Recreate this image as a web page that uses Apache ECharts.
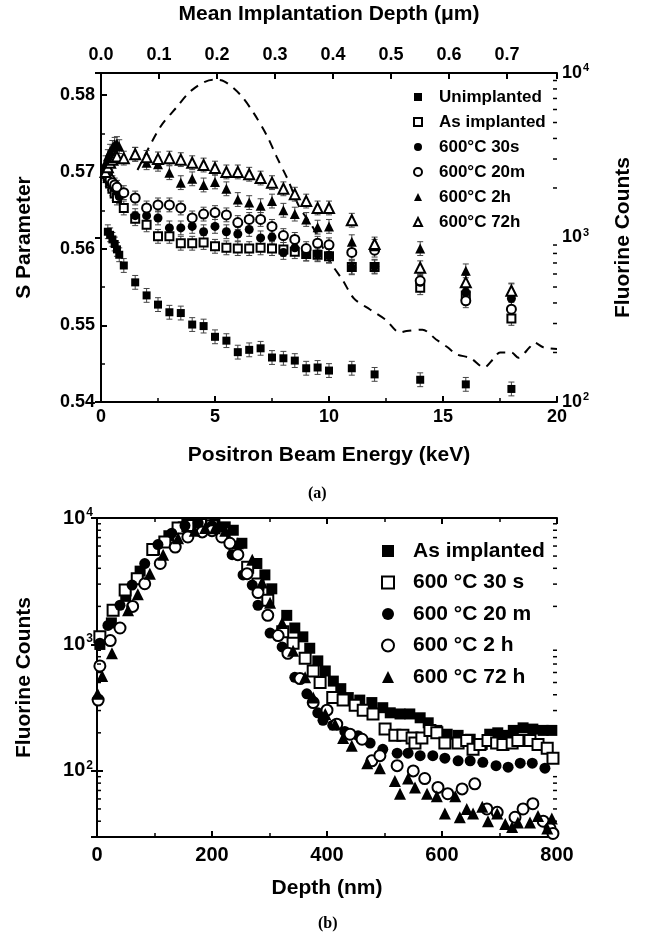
<!DOCTYPE html>
<html>
<head>
<meta charset="utf-8">
<script src="https://cdn.jsdelivr.net/npm/echarts@6/dist/echarts.min.js"></script>
<style>
html, body { margin: 0; padding: 0; background: #fff; }
#chart { width: 647px; height: 935px; }
</style>
</head>
<body>
<div id="chart"></div>
<script>
// (a) S parameter vs positron energy, [keV, S]
const unimplanted = [[0.3,0.5622],[0.4,0.5618],[0.5,0.5612],[0.6,0.5606],[0.7,0.5599],[0.8,0.5592],[1.0,0.5578],[1.5,0.5556],[2.0,0.5539],[2.5,0.5527],[3.0,0.5517],[3.5,0.5516],[4.0,0.5501],[4.5,0.5499],[5.0,0.5485],[5.5,0.5480],[6.0,0.5465],[6.5,0.5468],[7.0,0.5470],[7.5,0.5458],[8.0,0.5457],[8.5,0.5454],[9.0,0.5444],[9.5,0.5445],[10,0.5441],[11,0.5444],[12,0.5436],[14,0.5429],[16,0.5423],[18,0.5417]];
const asImplanted = [[0.2,0.5700],[0.3,0.5692],[0.4,0.5685],[0.5,0.5678],[0.6,0.5672],[0.7,0.5666],[1.0,0.5653],[1.5,0.5639],[2.0,0.5631],[2.5,0.5616],[3.0,0.5616],[3.5,0.5607],[4.0,0.5607],[4.5,0.5608],[5.0,0.5603],[5.5,0.5601],[6.0,0.5600],[6.5,0.5600],[7.0,0.5601],[7.5,0.5600],[8.0,0.5599],[8.5,0.5596],[9.0,0.5593],[9.5,0.5592],[10,0.5590],[11,0.5576],[12,0.5576],[14,0.5549],[16,0.5539],[18,0.5509]];
const anneal30s = [[0.2,0.5695],[0.3,0.5690],[0.4,0.5686],[0.5,0.5682],[0.6,0.5678],[0.7,0.5674],[0.8,0.5668],[1.5,0.5643],[2.0,0.5643],[2.5,0.5640],[3.0,0.5627],[3.5,0.5627],[4.0,0.5629],[4.5,0.5622],[5.0,0.5629],[5.5,0.5622],[6.0,0.5619],[6.5,0.5625],[7.0,0.5614],[7.5,0.5615],[8.0,0.5595],[8.5,0.5601],[9.0,0.5593],[9.5,0.5593],[10,0.5591],[11,0.5575],[12,0.5577],[14,0.5556],[16,0.5543],[18,0.5535]];
const anneal20m = [[0.2,0.5698],[0.3,0.5694],[0.4,0.5690],[0.5,0.5686],[0.6,0.5683],[0.7,0.5680],[1.0,0.5673],[1.5,0.5666],[2.0,0.5653],[2.5,0.5657],[3.0,0.5657],[3.5,0.5653],[4.0,0.5640],[4.5,0.5645],[5.0,0.5647],[5.5,0.5644],[6.0,0.5634],[6.5,0.5638],[7.0,0.5638],[7.5,0.5629],[8.0,0.5617],[8.5,0.5612],[9.0,0.5600],[9.5,0.5607],[10,0.5605],[11,0.5595],[12,0.5598],[14,0.5558],[16,0.5532],[18,0.5521]];
const anneal2h = [[0.2,0.5712],[0.3,0.5720],[0.4,0.5727],[0.5,0.5732],[0.6,0.5736],[0.7,0.5737],[0.8,0.5733],[1.5,0.5723],[2.0,0.5712],[2.5,0.5710],[3.0,0.5699],[3.5,0.5686],[4.0,0.5691],[4.5,0.5683],[5.0,0.5687],[5.5,0.5678],[6.0,0.5664],[6.5,0.5660],[7.0,0.5656],[7.5,0.5662],[8.0,0.5650],[8.5,0.5645],[9.0,0.5638],[9.5,0.5628],[10,0.5629],[11,0.5609],[12,0.5603],[14,0.5600],[16,0.5571],[18,0.5546]];
const anneal72h = [[0.2,0.5700],[0.3,0.5706],[0.4,0.5712],[0.5,0.5716],[0.6,0.5719],[0.7,0.5720],[1.0,0.5718],[1.5,0.5723],[2.0,0.5719],[2.5,0.5717],[3.0,0.5718],[3.5,0.5716],[4.0,0.5712],[4.5,0.5709],[5.0,0.5705],[5.5,0.5700],[6.0,0.5700],[6.5,0.5697],[7.0,0.5692],[7.5,0.5686],[8.0,0.5678],[8.5,0.5671],[9.0,0.5662],[9.5,0.5653],[10,0.5653],[11,0.5637],[12,0.5606],[14,0.5575],[16,0.5556],[18,0.5545]];
const sError = 0.0009;

// fluorine profile mapped onto beam energy (dashed curve, right axis)
const fluorineEnergy = [1.6,2.6,3.3,4.0,4.9,5.4,6.1,6.7,7.3,7.7,8.2,8.7,9.3,10.0,10.6,11.1,11.8,12.5,13.1,13.4,14.1,14.7,15.2,15.6,16.2,16.8,17.2,17.5,18.0,18.3,18.8,19.0,19.4,20.0];
const fluorineCounts = [2570,4700,6150,7900,9100,8900,7400,5700,4100,3100,2240,1530,1150,730,550,425,365,315,265,270,275,240,215,195,185,162,182,200,200,186,215,230,215,210];

// depth axis on top of (a), micrometres
const depthTicks = [0, 0.786];

// minor ticks of the log axes (2..9 x 10^n)
const logMinorA = [200,300,400,500,600,700,800,900,2000,3000,4000,5000,6000,7000,8000,9000];
const logMinorB = [40,50,60,70,80,90,200,300,400,500,600,700,800,900,2000,3000,4000,5000,6000,7000,8000,9000];

// (b) SIMS fluorine profiles, [nm, counts]
const simsAsImplanted = [[5,1000],[25,1480],[50,2400],[75,3800],[100,5620],[125,7240],[150,8510],[175,9120],[205,9120],[223,8510],[237,8000],[252,6310],[278,4365],[292,3548],[304,2754],[330,1698],[344,1349],[358,1148],[370,933],[384,741],[397,617],[411,513],[424,447],[437,380],[457,363],[478,347],[497,316],[510,288],[527,282],[544,282],[562,263],[576,240],[591,209],[609,195],[628,191],[649,178],[670,162],[683,195],[697,200],[713,191],[724,209],[741,219],[758,214],[776,209],[791,209]];
const sims30s = [[5,1148],[28,1862],[49,2692],[70,3311],[97,5623],[118,6457],[141,8318],[158,8710],[180,8900],[200,8700],[220,7600],[240,5750],[262,4074],[280,3000],[297,2239],[323,1259],[341,1023],[362,776],[376,617],[388,501],[410,380],[428,363],[449,331],[463,302],[480,282],[501,214],[518,191],[532,191],[548,182],[553,166],[565,182],[579,209],[591,200],[605,166],[628,166],[643,174],[654,148],[666,162],[680,174],[695,166],[706,162],[722,166],[732,174],[753,174],[767,162],[783,151],[793,126]];
const sims20m = [[5,1023],[19,1413],[40,2042],[61,2951],[83,4365],[106,6166],[130,7586],[153,8710],[176,9120],[200,8700],[218,7900],[235,5129],[254,3548],[270,2951],[280,2042],[301,1230],[322,955],[344,550],[365,407],[384,288],[393,251],[410,230],[431,205],[454,190],[475,166],[497,148],[522,138],[541,138],[562,132],[584,132],[605,126],[628,120],[649,120],[671,117],[694,110],[715,107],[736,115],[757,115],[779,105]];
const sims2h = [[2,363],[5,676],[23,1072],[40,1349],[62,2000],[83,3020],[110,4365],[136,5888],[158,7079],[183,7762],[200,7943],[217,7079],[231,6310],[245,5129],[261,3631],[280,2570],[297,1698],[315,1175],[332,851],[353,537],[376,347],[400,302],[417,234],[440,195],[461,178],[478,120],[492,132],[522,110],[550,100],[570,87],[593,74],[610,66],[635,72],[657,79],[678,50],[696,47],[727,43],[741,50],[758,55],[776,40],[788,35],[793,32]];
const sims72h = [[1,407],[9,562],[26,851],[54,1862],[71,2500],[92,3631],[115,5129],[141,6918],[170,7943],[188,8318],[205,8300],[223,7943],[245,6310],[270,4677],[287,3090],[301,2138],[322,1479],[341,891],[362,550],[376,380],[397,282],[414,234],[428,182],[443,158],[470,115],[492,105],[518,83],[527,66],[541,87],[553,74],[574,66],[591,63],[605,46],[623,63],[631,43],[643,50],[654,46],[670,52],[680,40],[696,46],[710,38],[722,36],[732,39],[753,39],[767,44],[783,35],[791,42]];

const FONT = 'Liberation Sans';

// 10^n labels for log axes
function powLabel(v) {
    const lg = Math.log10(v);
    const e = Math.round(lg);
    if (Math.abs(lg - e) > 1e-6) return '';
    return '{b|10}{s|' + e + '}';
}
function powRich(size) {
    return {
        b: { fontFamily: FONT, fontWeight: 'bold', fontSize: size, color: '#000' },
        s: { fontFamily: FONT, fontWeight: 'bold', fontSize: Math.round(size * 0.6), color: '#000', verticalAlign: 'bottom', padding: [0, 0, Math.round(size * 0.55), 1] }
    };
}
function stepLabel(step, digits) {
    return function (v) {
        const k = v / step;
        return Math.abs(k - Math.round(k)) < 1e-6 ? v.toFixed(digits) : '';
    };
}

// エラーバー描画
function errorBar(params, api) {
    const x = api.value(0);
    const lo = api.coord([x, api.value(1)]);
    const hi = api.coord([x, api.value(2)]);
    const w = 3;
    const style = { stroke: '#444', lineWidth: 1 };
    return {
        type: 'group',
        children: [
            { type: 'line', shape: { x1: lo[0], y1: lo[1], x2: hi[0], y2: hi[1] }, style: style },
            { type: 'line', shape: { x1: lo[0] - w, y1: lo[1], x2: lo[0] + w, y2: lo[1] }, style: style },
            { type: 'line', shape: { x1: hi[0] - w, y1: hi[1], x2: hi[0] + w, y2: hi[1] }, style: style }
        ]
    };
}

// 対数軸の副目盛り (value[2] = 内向きの方向)
function minorTick(params, api) {
    const p = api.coord([api.value(0), api.value(1)]);
    const dir = api.value(2);
    return {
        type: 'line',
        shape: { x1: p[0], y1: p[1], x2: p[0] + dir * 4, y2: p[1] },
        style: { stroke: '#000', lineWidth: 1.5 }
    };
}

const topSamples = [
    { name: 'Unimplanted', data: unimplanted, symbol: 'rect', size: 8 },
    { name: 'As implanted', data: asImplanted, symbol: 'emptyRect', size: 8 },
    { name: '600°C 30s', data: anneal30s, symbol: 'circle', size: 9 },
    { name: '600°C 20m', data: anneal20m, symbol: 'emptyCircle', size: 9 },
    { name: '600°C 2h', data: anneal2h, symbol: 'triangle', size: 10 },
    { name: '600°C 72h', data: anneal72h, symbol: 'emptyTriangle', size: 10 }
];
const bottomSamples = [
    { name: 'b:As implanted', data: simsAsImplanted, symbol: 'rect' },
    { name: 'b:600 °C 30 s', data: sims30s, symbol: 'emptyRect' },
    { name: 'b:600 °C 20 m', data: sims20m, symbol: 'circle' },
    { name: 'b:600 °C 2 h', data: sims2h, symbol: 'emptyCircle' },
    { name: 'b:600 °C 72 h', data: sims72h, symbol: 'triangle' }
];

const series = [];
series.push({
    type: 'line',
    xAxisIndex: 0,
    yAxisIndex: 1,
    data: fluorineEnergy.map((e, i) => [e, fluorineCounts[i]]),
    showSymbol: false,
    smooth: 0.3,
    lineStyle: { color: '#000', width: 2, type: [9, 7] },
    z: 1,
    silent: true
});
series.push({
    type: 'custom', xAxisIndex: 0, yAxisIndex: 1,
    data: logMinorA.map(v => [20, v, -1]),
    renderItem: minorTick, silent: true, clip: false, z: 5
});
series.push({
    type: 'custom', xAxisIndex: 2, yAxisIndex: 2,
    data: logMinorB.map(v => [0, v, 1]).concat(logMinorB.map(v => [800, v, -1])),
    renderItem: minorTick, silent: true, clip: false, z: 5
});
topSamples.forEach(s => {
    series.push({
        type: 'custom',
        xAxisIndex: 0,
        yAxisIndex: 0,
        data: s.data.map(p => [p[0], p[1] - sError, p[1] + sError]),
        renderItem: errorBar,
        z: 2,
        silent: true
    });
});
topSamples.forEach(s => {
    series.push({
        name: s.name,
        type: 'scatter',
        xAxisIndex: 0,
        yAxisIndex: 0,
        data: s.data,
        symbol: s.symbol,
        symbolSize: s.size,
        itemStyle: { color: '#000', opacity: 1 },
        z: 3
    });
});
bottomSamples.forEach(s => {
    series.push({
        name: s.name,
        type: 'scatter',
        xAxisIndex: 2,
        yAxisIndex: 2,
        data: s.data,
        symbol: s.symbol,
        symbolSize: s.symbol.indexOf('triangle') >= 0 ? 12 : 11,
        itemStyle: { color: '#000', opacity: 1 },
        z: 3
    });
});

const labelStyle = { fontFamily: FONT, fontWeight: 'bold', fontSize: 18, color: '#000' };
const nameStyle = { fontFamily: FONT, fontWeight: 'bold', fontSize: 21, color: '#000' };
const lineStyle = { lineStyle: { color: '#000', width: 2 } };
const majorTick = { inside: true, length: 6, lineStyle: { width: 2 } };
const linMinor = { show: true, splitNumber: 2, length: 4, lineStyle: { color: '#000', width: 1.5 } };

const option = {
    animation: false,
    backgroundColor: '#fff',
    grid: [
        { left: 101, right: 90, top: 73, height: 329 },
        { left: 97, right: 90, top: 518, height: 319 }
    ],
    legend: [
        {
            data: topSamples.map(s => s.name),
            orient: 'vertical',
            left: 408,
            top: 82,
            itemWidth: 8,
            itemHeight: 8,
            itemGap: 5,
            textStyle: { fontFamily: FONT, fontWeight: 'bold', fontSize: 17, color: '#000', lineHeight: 20, padding: [0, 0, 0, 12] },
            selectedMode: false
        },
        {
            data: bottomSamples.map(s => s.name),
            orient: 'vertical',
            left: 376,
            top: 534,
            itemWidth: 12,
            itemHeight: 12,
            itemGap: 7.5,
            formatter: n => n.replace(/^b:/, ''),
            textStyle: { fontFamily: FONT, fontWeight: 'bold', fontSize: 21, color: '#000', lineHeight: 24, padding: [0, 0, 0, 14] },
            selectedMode: false
        }
    ],
    xAxis: [
        {
            gridIndex: 0, type: 'value', position: 'bottom',
            min: 0, max: 20, interval: 5,
            name: 'Positron Beam Energy (keV)', nameLocation: 'middle', nameGap: 43, nameTextStyle: nameStyle,
            axisLine: lineStyle, axisTick: majorTick, minorTick: linMinor,
            axisLabel: Object.assign({ margin: 6 }, labelStyle),
            splitLine: { show: false }
        },
        {
            gridIndex: 0, type: 'value', position: 'top',
            min: depthTicks[0], max: depthTicks[1], interval: 0.1,
            name: 'Mean Implantation Depth (μm)', nameLocation: 'middle', nameGap: 48, nameTextStyle: nameStyle,
            axisLine: lineStyle, axisTick: majorTick,
            axisLabel: Object.assign({ margin: 9, formatter: stepLabel(0.1, 1) }, labelStyle),
            splitLine: { show: false }
        },
        {
            gridIndex: 1, type: 'value', position: 'bottom',
            min: 0, max: 800, interval: 200,
            name: 'Depth (nm)', nameLocation: 'middle', nameGap: 41, nameTextStyle: nameStyle,
            axisLine: lineStyle, axisTick: majorTick, minorTick: linMinor,
            axisLabel: Object.assign({}, labelStyle, { margin: 8, fontSize: 20 }),
            splitLine: { show: false }
        },
        {
            gridIndex: 1, type: 'value', position: 'top',
            min: 0, max: 800, interval: 200,
            axisLine: lineStyle, axisTick: majorTick, minorTick: linMinor,
            axisLabel: { show: false },
            splitLine: { show: false }
        }
    ],
    yAxis: [
        {
            gridIndex: 0, type: 'value', position: 'left',
            min: 0.54, max: 0.5829, interval: 0.01,
            name: 'S Parameter', nameLocation: 'middle', nameGap: 66, nameRotate: 90, nameTextStyle: nameStyle,
            axisLine: lineStyle, axisTick: majorTick, minorTick: linMinor,
            axisLabel: Object.assign({ margin: 6, formatter: stepLabel(0.01, 2) }, labelStyle),
            splitLine: { show: false }
        },
        {
            gridIndex: 0, type: 'log', position: 'right',
            min: 100, max: 10000,
            name: 'Fluorine Counts', nameLocation: 'middle', nameGap: 56, nameRotate: 90, nameTextStyle: nameStyle,
            axisLine: lineStyle, axisTick: majorTick,
            axisLabel: { margin: 5, formatter: powLabel, rich: powRich(18) },
            splitLine: { show: false }
        },
        {
            gridIndex: 1, type: 'log', position: 'left',
            min: 30, max: 10000,
            name: 'Fluorine Counts', nameLocation: 'middle', nameGap: 62, nameRotate: 90, nameTextStyle: nameStyle,
            axisLine: lineStyle, axisTick: majorTick,
            axisLabel: { margin: 4, formatter: powLabel, rich: powRich(20) },
            splitLine: { show: false }
        },
        {
            gridIndex: 1, type: 'log', position: 'right',
            min: 30, max: 10000,
            axisLine: lineStyle, axisTick: majorTick,
            axisLabel: { show: false },
            splitLine: { show: false }
        }
    ],
    graphic: [
        { type: 'text', left: 308, top: 486, style: { text: '(a)', font: 'bold 16px "Liberation Serif"', fill: '#000' } },
        { type: 'text', left: 318, top: 916, style: { text: '(b)', font: 'bold 16px "Liberation Serif"', fill: '#000' } }
    ],
    series: series
};

const chart = echarts.init(document.getElementById('chart'));
chart.setOption(option);
</script>
</body>
</html>
